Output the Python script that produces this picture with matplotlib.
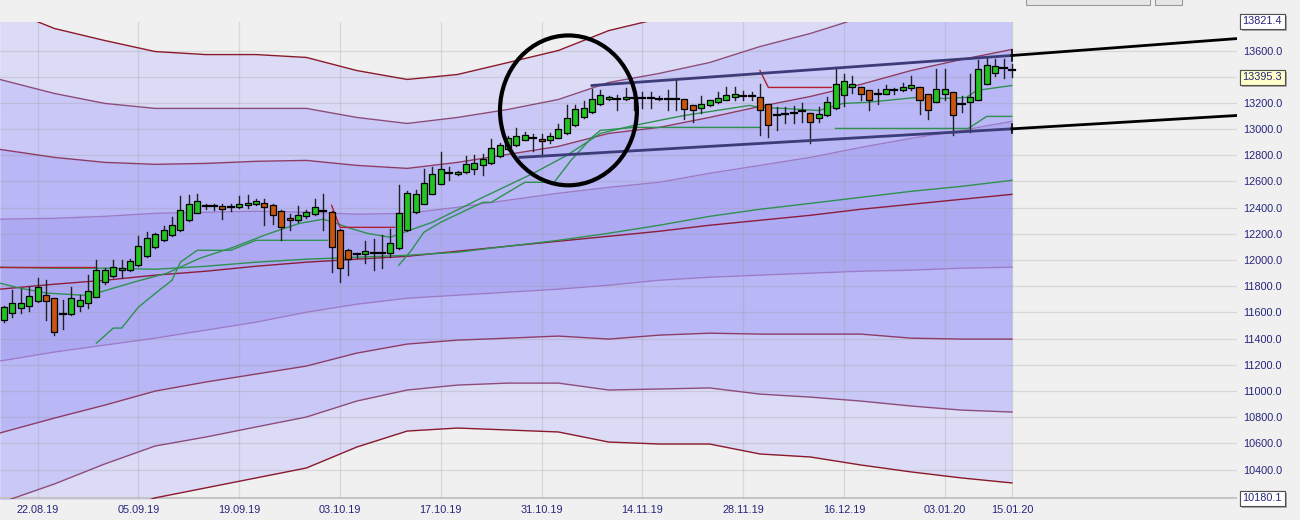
import matplotlib
matplotlib.use('Agg')
import matplotlib.pyplot as plt
import matplotlib.patheffects as pe
from matplotlib.patches import Ellipse, Rectangle

plt.rcParams['font.family'] = ['Liberation Sans', 'DejaVu Sans']

# daily candles (bar index 0..120)
opens = [11542, 11593, 11638, 11648, 11689, 11737, 11707, 11585, 11585, 11651,
         11676, 11720, 11829, 11880, 11925, 11928, 11966, 12030, 12101, 12152,
         12190, 12228, 12304, 12362, 12413, 12411, 12411, 12406, 12406, 12418,
         12426, 12436, 12423, 12375, 12322, 12307, 12335, 12355, 12375, 12368,
         12233, 12080, 12042, 12045, 12050, 12050, 12055, 12093, 12228, 12368,
         12431, 12507, 12583, 12655, 12655, 12673, 12698, 12723, 12741, 12792,
         12850, 12876, 12919, 12927, 12927, 12914, 12934, 12970, 13028, 13092,
         13130, 13188, 13229, 13229, 13229, 13237, 13237, 13237, 13231, 13231,
         13231, 13231, 13186, 13163, 13181, 13206, 13224, 13244, 13252, 13252,
         13244, 13193, 13104, 13117, 13122, 13135, 13122, 13087, 13104, 13163,
         13260, 13325, 13325, 13295, 13265, 13270, 13295, 13295, 13315, 13325,
         13265, 13206, 13265, 13282, 13193, 13206, 13224, 13346, 13427, 13463,
         13447]
highs = [11649, 11770, 11783, 11791, 11867, 11847, 11707, 11694, 11791, 11732,
         11885, 11999, 11943, 12004, 11999, 12007, 12185, 12215, 12210, 12261,
         12329, 12487, 12495, 12507, 12431, 12431, 12426, 12431, 12489, 12495,
         12469, 12464, 12426, 12380, 12355, 12411, 12380, 12469, 12507, 12373,
         12240, 12088, 12055, 12147, 12164, 12190, 12240, 12571, 12528, 12533,
         12698, 12710, 12825, 12710, 12680, 12792, 12799, 12809, 12927, 12894,
         12950, 13005, 12980, 12960, 12960, 12970, 13041, 13181, 13181, 13214,
         13308, 13300, 13256, 13262, 13315, 13315, 13282, 13282, 13249, 13295,
         13384, 13231, 13186, 13249, 13224, 13282, 13325, 13325, 13290, 13282,
         13346, 13193, 13168, 13168, 13173, 13198, 13122, 13168, 13244, 13473,
         13422, 13402, 13325, 13295, 13308, 13338, 13315, 13351, 13409, 13325,
         13265, 13460, 13460, 13282, 13249, 13417, 13524, 13554, 13536, 13538,
         13500]
lows = [11529, 11567, 11598, 11613, 11682, 11542, 11427, 11471, 11580, 11613,
        11636, 11715, 11821, 11872, 11872, 11913, 11958, 12025, 12093, 12146,
        12185, 12223, 12299, 12357, 12393, 12380, 12317, 12373, 12401, 12401,
        12418, 12266, 12279, 12152, 12228, 12291, 12324, 12347, 12228, 11910,
        11829, 11885, 12019, 11979, 11928, 11943, 12025, 12088, 12223, 12360,
        12426, 12502, 12578, 12609, 12650, 12665, 12660, 12652, 12736, 12787,
        12838, 12869, 12914, 12833, 12792, 12896, 12929, 12965, 13023, 13087,
        13125, 13183, 13224, 13148, 13219, 13143, 13163, 13163, 13219, 13143,
        13143, 13079, 13054, 13122, 13173, 13200, 13219, 13219, 13219, 13219,
        12952, 12939, 12990, 13046, 13046, 13054, 12894, 13054, 13097, 13155,
        13173, 13275, 13219, 13148, 13193, 13265, 13270, 13290, 13300, 13117,
        13079, 13206, 13219, 12952, 13130, 12977, 13219, 13341, 13409, 13390,
        13400]
closes = [11643, 11669, 11669, 11725, 11791, 11684, 11453, 11587, 11707, 11694,
          11765, 11928, 11923, 11948, 11938, 11992, 12106, 12172, 12202, 12228,
          12266, 12385, 12431, 12451, 12415, 12413, 12390, 12408, 12431, 12439,
          12451, 12406, 12347, 12253, 12304, 12347, 12365, 12406, 12372, 12101,
          11936, 12009, 12044, 12068, 12052, 12052, 12134, 12362, 12515, 12507,
          12589, 12655, 12698, 12662, 12673, 12731, 12741, 12774, 12858, 12876,
          12930, 12950, 12952, 12929, 12909, 12944, 13003, 13087, 13155, 13163,
          13232, 13262, 13247, 13231, 13247, 13239, 13239, 13239, 13233, 13233,
          13233, 13155, 13143, 13188, 13219, 13239, 13262, 13270, 13254, 13254,
          13143, 13028, 13106, 13119, 13124, 13137, 13054, 13117, 13206, 13346,
          13371, 13346, 13265, 13224, 13267, 13308, 13297, 13320, 13333, 13224,
          13143, 13308, 13308, 13104, 13195, 13244, 13460, 13491, 13478, 13465,
          13449]

# regression bands, sampled every 6 bars
band_x = [-0.5, 6, 12, 18, 24, 30, 36, 42, 48, 54, 60, 66, 72, 78, 84, 90, 96, 102, 108, 114, 120]
center = [11778, 11816, 11846, 11885, 11915, 11953, 11984, 12007, 12029, 12068, 12106,
          12144, 12182, 12220, 12266, 12304, 12342, 12388, 12426, 12464, 12502]
upper1 = [12312, 12319, 12334, 12357, 12365, 12373, 12365, 12350, 12357, 12403, 12457,
          12510, 12555, 12594, 12662, 12723, 12784, 12860, 12929, 12990, 13059]
upper2 = [12845, 12784, 12746, 12731, 12738, 12754, 12761, 12723, 12700, 12746, 12807,
          12868, 12967, 13013, 13089, 13173, 13249, 13341, 13447, 13531, 13608]
upper3 = [13379, 13272, 13196, 13158, 13158, 13158, 13158, 13089, 13043, 13089, 13150,
          13226, 13356, 13425, 13508, 13630, 13730, 13851, 13966, 14073, 14164]
upper4 = [13935, 13768, 13676, 13592, 13569, 13569, 13547, 13447, 13379, 13417, 13508,
          13600, 13752, 13844, 13935, 14088, 14187, 14339, 14469, 14591, 14705]
lower1 = [11229, 11298, 11351, 11404, 11465, 11526, 11602, 11663, 11709, 11732, 11755,
          11778, 11808, 11846, 11869, 11885, 11900, 11915, 11923, 11938, 11946]
lower2 = [10680, 10794, 10893, 11000, 11069, 11130, 11191, 11290, 11359, 11389, 11404,
          11420, 11397, 11427, 11442, 11435, 11435, 11435, 11404, 11397, 11397]
lower3 = [10146, 10291, 10444, 10581, 10649, 10726, 10802, 10924, 11008, 11046, 11061,
          11061, 11008, 11016, 11024, 10977, 10954, 10924, 10886, 10855, 10840]
lower4 = [9620, 9864, 10055, 10185, 10261, 10337, 10413, 10573, 10695, 10718, 10703,
          10688, 10611, 10596, 10596, 10520, 10497, 10436, 10383, 10337, 10299]

# moving averages
ma_long = [11946, 11938, 11938, 11930, 11953, 11984, 12007, 12022, 12037, 12060, 12106,
           12151, 12205, 12266, 12334, 12388, 12433, 12479, 12525, 12563, 12609]
ma_mid_x = [-0.5, 1.9, 5.1, 9.4, 11.4, 15.4, 19.4, 23.3, 27.3, 31.3, 35.2, 38, 39.2, 41.2,
            43.2, 46, 48.3, 51, 57, 63, 67, 71, 75, 81, 88.8, 90, 92.7, 97, 99.9, 102.7,
            108.7, 111.8, 114.6, 115.8, 120]
ma_mid = [11824, 11786, 11748, 11732, 11755, 11831, 11900, 12014, 12098, 12197, 12281,
          12312, 12289, 12243, 12205, 12174, 12228, 12289, 12479, 12662, 12799, 12967,
          13028, 13104, 13181, 13165, 13158, 13142, 13196, 13204, 13242, 13234, 13242,
          13295, 13333]

# trailing stop (green = long, red = short)
stop_green = [
    ([11, 13, 14, 16, 18.5, 20, 21, 23, 27, 30, 38.5],
     [11366, 11481, 11481, 11641, 11771, 11846, 11984, 12075, 12075, 12151, 12151]),
    ([47, 48.5, 50, 52, 57, 58, 62, 65.5, 67.5, 70, 71, 75, 90],
     [11961, 12075, 12213, 12289, 12441, 12441, 12594, 12594, 12761, 12937, 12990, 13013, 13013]),
    ([99, 114.8, 117, 120], [13005, 13005, 13097, 13097]),
]
stop_red = [
    ([-0.5, 11], [11946, 11946]),
    ([39, 40, 46.5], [12418, 12250, 12250]),
    ([90, 91, 98.5], [13447, 13318, 13318]),
]

# trend channel drawn on the chart, and its projection
chan_up_x, chan_up = [70, 120], [13333, 13562]
chan_lo_x, chan_lo = [61.4, 120], [12784, 13002]
proj_x = [120, 146.8]
proj_up = [13562, 13691]
proj_lo = [13002, 13104]

date_pos = [4, 16, 28, 40, 52, 64, 76, 88, 100, 112, 120]
date_lbl = ['22.08.19', '05.09.19', '19.09.19', '03.10.19', '17.10.19', '31.10.19',
            '14.11.19', '28.11.19', '16.12.19', '03.01.20', '15.01.20']
y_min, y_max = 10180.1, 13821.4
last_price = 13395.3

navy = '#25257a'
fig = plt.figure(figsize=(13, 5.2), dpi=100)
fig.patch.set_facecolor('#f0f0f0')
ax = fig.add_axes([0, 21.5 / 520, 1237 / 1300, 477 / 520])
ax.set_facecolor('#f0f0f0')
ax.set_xlim(-0.48, 146.8)
ax.set_ylim(y_min, y_max)

# bands
fills = ['#dcdbf6', '#cac8f6', '#b9b7f5', '#adaaf3']
ax.fill_between(band_x, upper4, upper3, color=fills[0], lw=0, zorder=1)
ax.fill_between(band_x, upper3, upper2, color=fills[1], lw=0, zorder=1)
ax.fill_between(band_x, upper2, upper1, color=fills[2], lw=0, zorder=1)
ax.fill_between(band_x, upper1, lower1, color=fills[3], lw=0, zorder=1)
ax.fill_between(band_x, lower1, lower2, color=fills[2], lw=0, zorder=1)
ax.fill_between(band_x, lower2, lower3, color=fills[1], lw=0, zorder=1)
ax.fill_between(band_x, lower3, lower4, color=fills[0], lw=0, zorder=1)

# grid
for v in range(10400, 13601, 200):
    ax.axhline(v, color='#9a9a9a', alpha=0.28, lw=0.9, zorder=2)
for v in (y_min, y_max):
    ax.axhline(v, color='#c4c4c4', lw=1.5, zorder=2)
for p in date_pos:
    ax.axvline(p, color='#9a9a9a', alpha=0.28, lw=0.9, zorder=2)

band_cols = ['#9c7cc8', '#8c3c66', '#8c4c7c', '#8a1a2a']
for k, (u, l) in enumerate([(upper1, lower1), (upper2, lower2), (upper3, lower3), (upper4, lower4)]):
    ax.plot(band_x, u, color=band_cols[k], lw=1, zorder=3)
    ax.plot(band_x, l, color=band_cols[k], lw=1, zorder=3)
ax.plot(band_x, center, color='#8c1c3c', lw=1, zorder=3)

ax.plot(band_x, ma_long, color='#2e9150', lw=1, zorder=4)
ax.plot(ma_mid_x, ma_mid, color='#2e9150', lw=1, zorder=4)
for xs, ys in stop_green:
    ax.plot(xs, ys, color='#2e9150', lw=1, zorder=4)
for xs, ys in stop_red:
    ax.plot(xs, ys, color='#b02030', lw=1, zorder=4)

# candles
for i in range(len(opens)):
    o, h, l, c = opens[i], highs[i], lows[i], closes[i]
    ax.plot([i, i], [l, h], color='#202020', lw=1, zorder=5)
    if abs(c - o) < 10:
        ax.plot([i - 0.36, i + 0.36], [c, c], color='black', lw=1.6, zorder=6)
    else:
        col = '#22c322' if c > o else '#c8550e'
        ax.add_patch(Rectangle((i - 0.36, min(o, c)), 0.72, abs(c - o), facecolor=col,
                               edgecolor='black', lw=0.9, zorder=6))

# channel + projection
ax.plot(chan_up_x, chan_up, color='#3c3c78', lw=2, zorder=7)
ax.plot(chan_lo_x, chan_lo, color='#3c3c78', lw=2, zorder=7)
ax.plot(proj_x, proj_up, color='black', lw=2, zorder=7)
ax.plot(proj_x, proj_lo, color='black', lw=2, zorder=7)
ax.plot([120, 120], [proj_up[0] - 40, proj_up[0] + 40], color='black', lw=1.2, zorder=7)
ax.plot([120, 120], [proj_lo[0] - 35, proj_lo[0] + 35], color='black', lw=1.2, zorder=7)

ax.add_patch(Ellipse((67.2, 13143), 16.3, 1144, fill=False, edgecolor='black', lw=3, zorder=8))

for s in ax.spines.values():
    s.set_visible(False)
ax.yaxis.tick_right()
ticks = list(range(10400, 13601, 200))
ax.set_yticks(ticks)
ax.set_yticklabels(['%.1f' % t for t in ticks])
ax.tick_params(axis='y', length=0, pad=4.5, labelsize=7.8, labelcolor=navy)
ax.set_xticks(date_pos)
ax.set_xticklabels(date_lbl)
ax.tick_params(axis='x', length=0, pad=5, labelsize=7.8, labelcolor=navy)

tr = ax.get_yaxis_transform()
for val, fc in ((y_max, 'white'), (y_min, 'white'), (last_price, '#ffffcc')):
    t = ax.text(1.0045, val, '%.1f' % val, transform=tr, ha='left', va='center', fontsize=7.8,
                color=navy, zorder=10,
                bbox=dict(boxstyle='square,pad=0.25', fc=fc, ec='#505050', lw=0.8))
    t.get_bbox_patch().set_path_effects([pe.withSimplePatchShadow(offset=(1.5, -1.5),
                                         shadow_rgbFace='#909090', alpha=0.7), pe.Normal()])

# toolbar buttons cut off at the top edge
fig.patches.append(Rectangle((1026 / 1300, 515 / 520), 124 / 1300, 10 / 520, transform=fig.transFigure,
                             fc='#e6e6e6', ec='#9a9a9a', lw=0.8))
fig.patches.append(Rectangle((1155 / 1300, 515 / 520), 27 / 1300, 10 / 520, transform=fig.transFigure,
                             fc='#e6e6e6', ec='#9a9a9a', lw=0.8))

fig.savefig('out.png', dpi=100, facecolor=fig.get_facecolor())
